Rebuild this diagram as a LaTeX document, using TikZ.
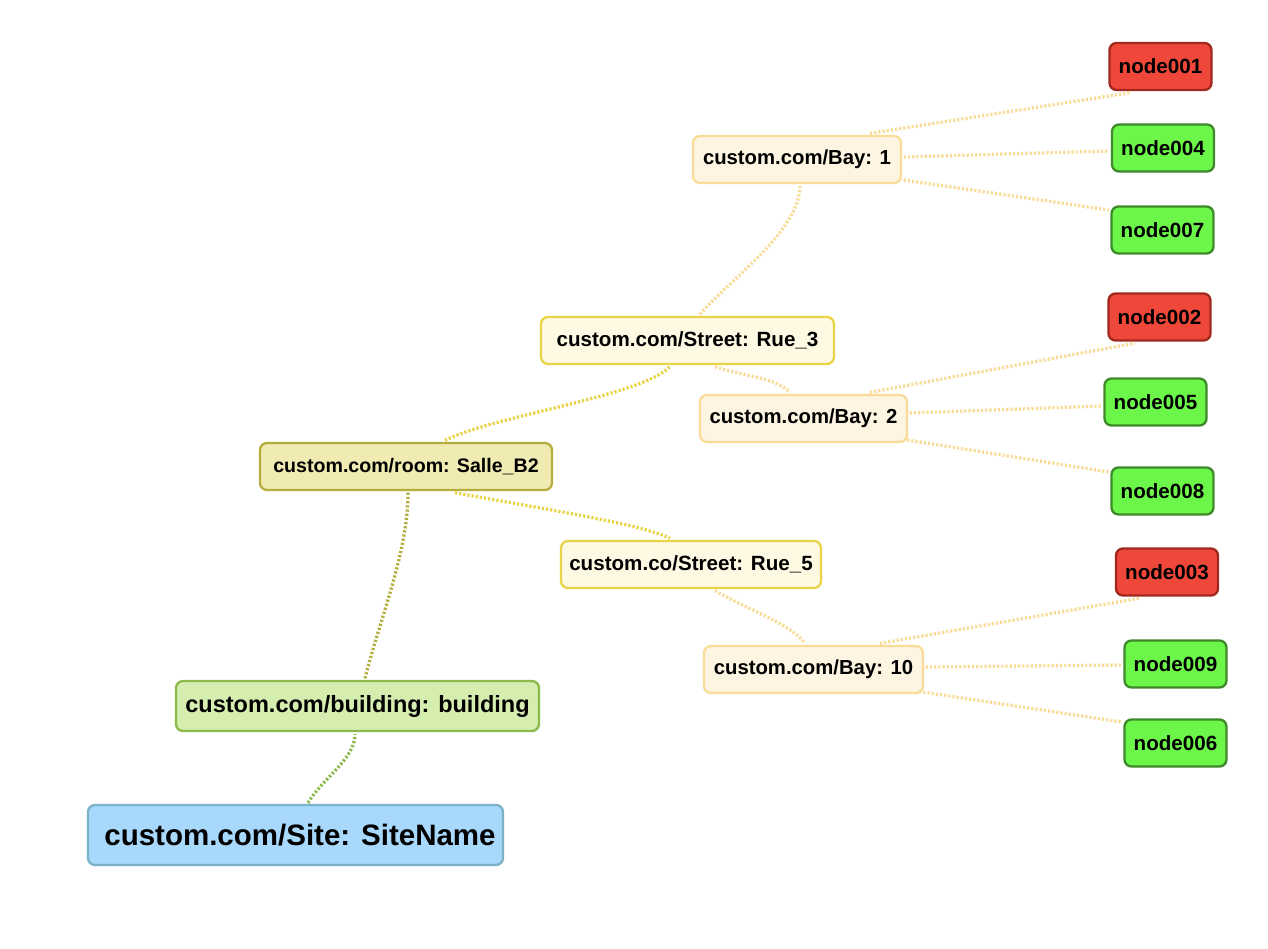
\documentclass[tikz,border=0pt]{standalone}
\usepackage{fontspec}
\setmainfont{Liberation Sans}
\usetikzlibrary{calc}
\definecolor{sitefill}{HTML}{A8D8FC}
\definecolor{sitedraw}{HTML}{7AB2C8}
\definecolor{bldfill}{HTML}{D6EDB0}
\definecolor{blddraw}{HTML}{8DB94A}
\definecolor{roomfill}{HTML}{EFEBB2}
\definecolor{roomdraw}{HTML}{B5AE3E}
\definecolor{strfill}{HTML}{FEF9E3}
\definecolor{strdraw}{HTML}{E9D448}
\definecolor{bayfill}{HTML}{FDF5E2}
\definecolor{baydraw}{HTML}{F9DC98}
\definecolor{redfill}{HTML}{EF473A}
\definecolor{reddraw}{HTML}{A0281E}
\definecolor{grnfill}{HTML}{6DF64A}
\definecolor{grndraw}{HTML}{3E8A2A}
\begin{document}
\begin{tikzpicture}[x=1pt,y=-1pt,
  box/.style={rounded corners=7pt, line width=2.3pt, inner sep=0pt, minimum height=47pt,
    font=\fontsize{20.6}{24}\selectfont\bfseries, text=black},
  sitebox/.style={box, fill=sitefill, draw=sitedraw, minimum height=60pt, font=\fontsize{29.5}{34}\selectfont\bfseries},
  bldbox/.style={box, fill=bldfill, draw=blddraw, minimum height=50pt, font=\fontsize{23.5}{28}\selectfont\bfseries},
  roombox/.style={box, fill=roomfill, draw=roomdraw, font=\fontsize{19.6}{23}\selectfont\bfseries},
  strbox/.style={box, fill=strfill, draw=strdraw},
  baybox/.style={box, fill=bayfill, draw=baydraw, font=\fontsize{20.3}{24}\selectfont\bfseries},
  redbox/.style={box, fill=redfill, draw=reddraw, minimum width=102pt},
  grnbox/.style={box, fill=grnfill, draw=grndraw, minimum width=102pt},
  link/.style={line width=3.3pt, dash pattern=on 2.2pt off 2pt},
]
\useasboundingbox (0,0) rectangle (1268,948);
\fill[white] (0,0) rectangle (1268,948);

% nodes
\node[sitebox, minimum width=415pt] (site) at (295.5,835) {\hspace*{9pt}custom.com/Site: SiteName};
\node[bldbox, minimum width=363pt] (bld) at (357.5,706) {custom.com/building: building};
\node[roombox, minimum width=292pt] (room) at (406,466.5) {custom.com/room: Salle\_B2};
\node[strbox, minimum width=293pt] (str3) at (687.5,340.5) {custom.com/Street: Rue\_3};
\node[strbox, minimum width=260pt] (str5) at (691,564.5) {custom.co/Street: Rue\_5};
\node[baybox, minimum width=208pt] (bay1) at (797,159.5) {custom.com/Bay: 1};
\node[baybox, minimum width=207pt] (bay2) at (803.5,418.5) {custom.com/Bay: 2};
\node[baybox, minimum width=219pt] (bay10) at (813.5,669.5) {custom.com/Bay: 10};

\node[redbox] (n001) at (1160.5,66.5) {node001};
\node[grnbox] (n004) at (1163,148) {node004};
\node[grnbox] (n007) at (1162.5,230) {node007};
\node[redbox] (n002) at (1159.5,317) {node002};
\node[grnbox] (n005) at (1155.5,402) {node005};
\node[grnbox] (n008) at (1162.5,491) {node008};
\node[redbox] (n003) at (1167,572) {node003};
\node[grnbox] (n009) at (1175.5,664) {node009};
\node[grnbox] (n006) at (1175.5,743) {node006};

% connectors
\draw[link, blddraw] ($(site.north)+(12.5,-1)$) .. controls +(15,-25) and +(0,25) .. ($(bld.south)+(-2.5,2)$);
\draw[link, roomdraw] ($(bld.north)+(7.5,-1.5)$) .. controls +(15,-60) and +(0,60) .. ($(room.south)+(2,1.5)$);
\draw[link, strdraw] ($(room.north)+(39,-1.5)$) .. controls +(50,-25) and +(-30,30) .. ($(str3.south)+(-17.5,1.5)$);
\draw[link, strdraw] ($(room.south)+(49,1.5)$) .. controls +(80,15) and +(-30,-15) .. ($(str5.north)+(-21,-1.5)$);
\draw[link, baydraw] ($(str3.north)+(12.5,-1.5)$) .. controls +(30,-35) and +(0,45) .. ($(bay1.south)+(3,1.5)$);
\draw[link, baydraw] ($(str3.south)+(27.5,1.5)$) .. controls +(30,10) and +(-15,-15) .. ($(bay2.north)+(-13.5,-1.5)$);
\draw[link, baydraw] ($(str5.south)+(24,1.5)$) .. controls +(35,20) and +(-15,-20) .. ($(bay10.north)+(-8.5,-1.5)$);

\draw[link, baydraw] ($(bay1.north)+(73,-1.5)$) -- ($(n001.south)+(-30,1.5)$);
\draw[link, baydraw] ($(bay1.east)+(1.5,-2.5)$) -- ($(n004.west)+(-1.5,3)$);
\draw[link, baydraw] ($(bay1.east)+(1.5,20.5)$) -- ($(n007.west)+(-1.5,-20)$);

\draw[link, baydraw] ($(bay2.north)+(66.5,-1.5)$) -- ($(n002.south)+(-24.5,1.5)$);
\draw[link, baydraw] ($(bay2.east)+(1.5,-5.5)$) -- ($(n005.west)+(-1.5,4)$);
\draw[link, baydraw] ($(bay2.east)+(-1,21.5)$) -- ($(n008.west)+(-1.5,-19)$);

\draw[link, baydraw] ($(bay10.north)+(66.5,-1.5)$) -- ($(n003.south)+(-27,1.5)$);
\draw[link, baydraw] ($(bay10.east)+(1.5,-2.5)$) -- ($(n009.west)+(-1.5,1)$);
\draw[link, baydraw] ($(bay10.east)+(-5,22)$) -- ($(n006.west)+(-1.5,-21)$);
\end{tikzpicture}
\end{document}
